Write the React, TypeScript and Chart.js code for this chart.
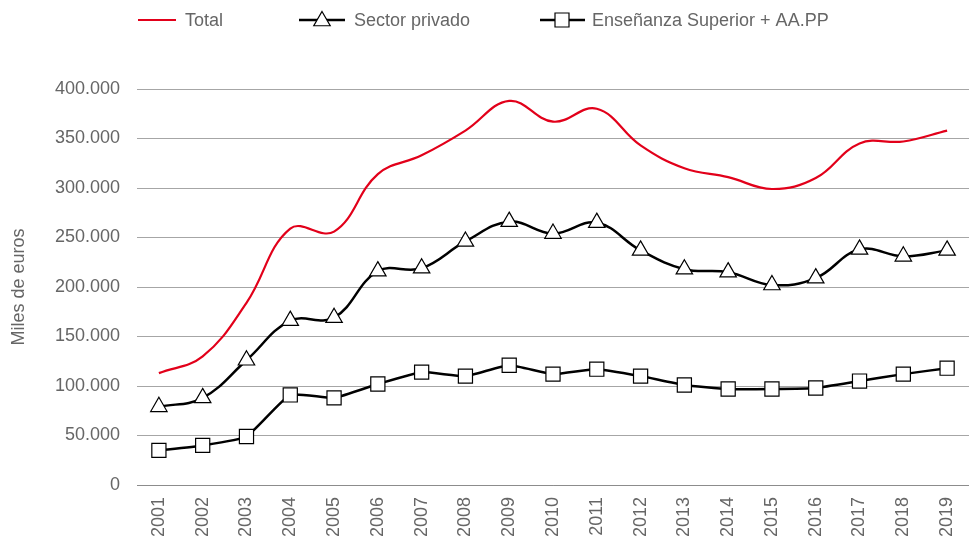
import { useEffect, useRef } from 'react';
import { Chart, registerables } from 'chart.js';

Chart.register(...registerables);

const years = ['2001', '2002', '2003', '2004', '2005', '2006', '2007', '2008', '2009', '2010', '2011', '2012', '2013', '2014', '2015', '2016', '2017', '2018', '2019'];
const total = [113000, 130000, 184000, 259000, 256000, 314000, 333000, 358000, 388000, 367000, 380000, 343000, 320000, 311000, 299000, 310000, 345000, 347000, 358000];
const privado = [79000, 88000, 126000, 166000, 169000, 216000, 219000, 246000, 266000, 254000, 265000, 237000, 218000, 215000, 202000, 209000, 238000, 231000, 237000];
const superior = [35000, 40000, 49000, 91000, 88000, 102000, 114000, 110000, 121000, 112000, 117000, 110000, 101000, 97000, 97000, 98000, 105000, 112000, 118000];

const seriesNames = ['Total', 'Sector privado', 'Enseñanza Superior + AA.PP'];

const FONT_FAMILY = '"Liberation Sans", Arial, sans-serif';
const TEXT_COLOR = '#666666';
const RED = '#e2001a';

function fmt(v: number): string {
  return String(Math.round(v)).replace(/\B(?=(\d{3})+(?!\d))/g, '.');
}

function triangle(ctx: CanvasRenderingContext2D, x: number, y: number, r: number) {
  ctx.beginPath();
  let rad = 0;
  ctx.moveTo(x + Math.sin(rad) * r, y - Math.cos(rad) * r);
  rad += (2 * Math.PI) / 3;
  ctx.lineTo(x + Math.sin(rad) * r, y - Math.cos(rad) * r);
  rad += (2 * Math.PI) / 3;
  ctx.lineTo(x + Math.sin(rad) * r, y - Math.cos(rad) * r);
  ctx.closePath();
  ctx.fillStyle = '#ffffff';
  ctx.fill();
  ctx.lineWidth = 1.2;
  ctx.strokeStyle = '#000000';
  ctx.stroke();
}

function square(ctx: CanvasRenderingContext2D, x: number, y: number, s: number) {
  ctx.beginPath();
  ctx.rect(x - s / 2, y - s / 2, s, s);
  ctx.fillStyle = '#ffffff';
  ctx.fill();
  ctx.lineWidth = 1.2;
  ctx.strokeStyle = '#000000';
  ctx.stroke();
}

const legendPlugin = {
  id: 'customLegend',
  afterDraw(chart: any) {
    const ctx: CanvasRenderingContext2D = chart.ctx;
    const y = 20;
    ctx.save();
    ctx.lineCap = 'butt';
    ctx.strokeStyle = RED;
    ctx.lineWidth = 2.2;
    ctx.beginPath();
    ctx.moveTo(138, y);
    ctx.lineTo(176, y);
    ctx.stroke();
    ctx.strokeStyle = '#000';
    ctx.lineWidth = 2.5;
    ctx.beginPath();
    ctx.moveTo(299, y);
    ctx.lineTo(345, y);
    ctx.stroke();
    triangle(ctx, 322, y + 1, 9.5);
    ctx.strokeStyle = '#000';
    ctx.lineWidth = 2.5;
    ctx.beginPath();
    ctx.moveTo(540, y);
    ctx.lineTo(585, y);
    ctx.stroke();
    square(ctx, 562, y, 14);
    ctx.fillStyle = TEXT_COLOR;
    ctx.font = `18px ${FONT_FAMILY}`;
    ctx.textBaseline = 'middle';
    ctx.textAlign = 'left';
    ctx.fillText(seriesNames[0], 185, y + 1);
    ctx.fillText(seriesNames[1], 354, y + 1);
    ctx.fillText(seriesNames[2], 592, y + 1);
    ctx.restore();
  },
};

export default function App() {
  const ref = useRef<HTMLCanvasElement | null>(null);
  useEffect(() => {
    if (!ref.current) return;
    const chart = new Chart(ref.current, {
      type: 'line',
      data: {
        labels: years,
        datasets: [
          {
            label: seriesNames[0],
            data: total,
            borderColor: RED,
            borderWidth: 2.2,
            pointRadius: 0,
            tension: 0.4,
            fill: false,
          },
          {
            label: seriesNames[1],
            data: privado,
            borderColor: '#000',
            borderWidth: 2.5,
            pointStyle: 'triangle',
            pointRadius: 9.5,
            pointBackgroundColor: '#fff',
            pointBorderColor: '#000',
            pointBorderWidth: 1.2,
            tension: 0.4,
            fill: false,
          },
          {
            label: seriesNames[2],
            data: superior,
            borderColor: '#000',
            borderWidth: 2.5,
            pointStyle: 'rect',
            pointRadius: 10,
            pointBackgroundColor: '#fff',
            pointBorderColor: '#000',
            pointBorderWidth: 1.2,
            tension: 0.15,
            fill: false,
          },
        ],
      },
      options: {
        animation: false,
        responsive: false,
        maintainAspectRatio: false,
        layout: { autoPadding: false, padding: { top: 89, left: 0, right: -8, bottom: 0 } },
        plugins: {
          legend: { display: false },
          tooltip: { enabled: false },
        },
        scales: {
          x: {
            offset: true,
            grid: { display: false, drawTicks: false },
            border: { display: true, color: '#8c8c8c', width: 1 },
            ticks: {
              autoSkip: false,
              minRotation: 90,
              maxRotation: 90,
              padding: 12,
              color: TEXT_COLOR,
              font: { family: FONT_FAMILY, size: 18 },
            },
            afterFit(scale: any) {
              scale.height = 56;
              scale.paddingLeft = 0;
              scale.paddingRight = 0;
            },
          },
          y: {
            min: 0,
            max: 400000,
            grid: { color: '#a6a6a6', lineWidth: 1, drawTicks: false },
            border: { display: false },
            ticks: {
              stepSize: 50000,
              padding: 17,
              color: TEXT_COLOR,
              font: { family: FONT_FAMILY, size: 18 },
              callback: (v: any) => fmt(Number(v)),
            },
            title: {
              display: true,
              text: 'Miles de euros',
              color: TEXT_COLOR,
              font: { family: FONT_FAMILY, size: 18 },
              padding: { top: 8, bottom: 0 },
            },
            afterFit(scale: any) {
              scale.width = 137;
            },
          },
        },
      },
      plugins: [legendPlugin],
    });
    return () => chart.destroy();
  }, []);
  return (
    <div style={{ position: 'absolute', left: 0, top: 0, width: 969, height: 541 }}>
      <canvas ref={ref} width={969} height={541} style={{ display: 'block', width: 969, height: 541 }} />
    </div>
  );
}
